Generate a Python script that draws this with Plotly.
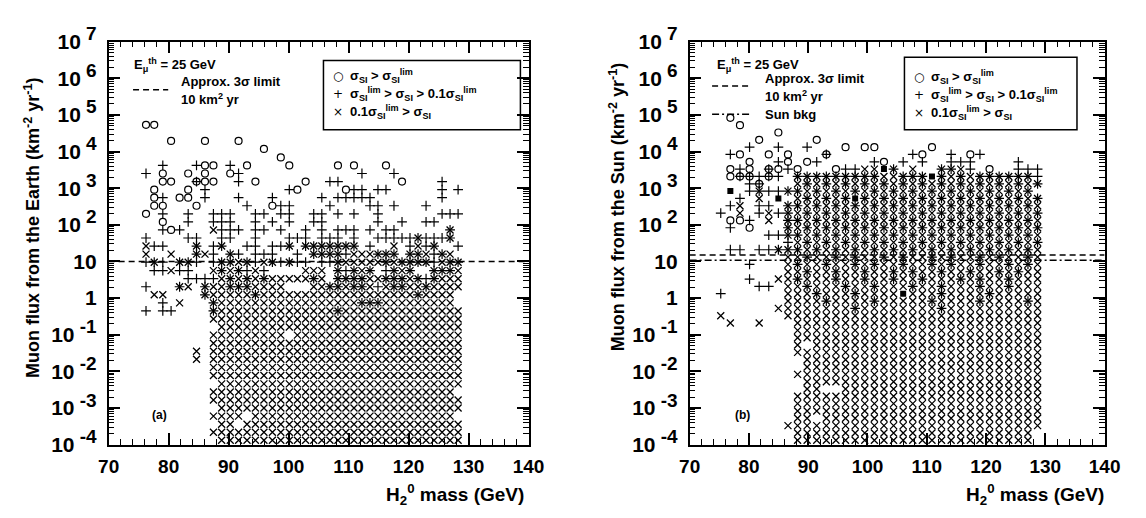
import plotly.graph_objects as go

W, H = 1146, 518
FONT = "Liberation Sans, Arial, Helvetica, sans-serif"

# ---------------------------------------------------------------- data
# Panel (a): muon flux from the Earth.  Scan points:
# column masses (GeV), row fluxes (log10 km^-2 yr^-1), and a symbol map
# (top row first).  'o' sigma_SI > lim, '+' lim > sigma_SI > 0.1 lim,
# 'x' 0.1 lim > sigma_SI, '*' = '+' and 'x' overlap, '@' = 'o' and '+', 's' = pile-up
left_mass = [76.23, 77.60, 79.03, 80.41, 81.83, 83.26, 84.65, 86.06, 87.47, 88.84,
             90.27, 91.66, 93.07, 94.47, 95.89, 97.30, 98.70, 100.12, 101.47, 102.84,
             104.19, 105.54, 106.89, 108.23, 109.56, 110.90, 112.23, 113.57, 114.90, 116.24,
             117.57, 118.91, 120.24, 121.58, 122.92, 124.25, 125.59, 126.92, 128.26]
left_log_flux = [-3.88, -3.66, -3.44, -3.22, -3.00, -2.78, -2.56, -2.34, -2.11, -1.89,
                 -1.67, -1.45, -1.23, -1.01, -0.79, -0.57, -0.35, -0.13, 0.09, 0.31,
                 0.53, 0.75, 0.98, 1.20, 1.42, 1.64, 1.86, 2.08, 2.30, 2.52,
                 2.74, 2.96, 3.18, 3.40, 3.62, 3.84, 4.07, 4.29, 4.51, 4.73]
left_map = [
    "oo",
    "",
    "...o...o...o",
    "..............o",
    "................o",
    "..+...+oo.+.o....o.....o.o...o",
    "+.o..o.o..o+..............+...+",
    "..oo..@oo..+.o.....o..++.......o....+",
    ".o...o.+.........+o.....o++.++......+.+",
    ".o+.oo.+...+...+.....+.+++++........+",
    ".oo...o.....+..o++....+....++.+...+",
    "o.+..+..+++..++.++..++.+.+..+.......+++",
    "..o..+..+++..+.+.+..++......+..+..++",
    "..+o+...x+++.++.+..+.+.+++.+.++......*",
    "+....++..++..+...+++.+++.+..+++++*+++*",
    "x++...*.+*..++.++*.*******.+..x.+x+*..+",
    "x..x..*x+.*+.+++..+.****+xxx***.**x+*x",
    "+*+.**+.+**x*+x*+*++.++*xxxxx*x****+x**",
    ".++x++..x*x*+x+....xxx.*+*x*.+*x*..***x",
    ".....++++x*x*x*xxxxx*x.****xx***x*+*xxx",
    "+...*x.*xx***xxxx...xx**x**x+x**xx*xxxx",
    ".xx....*xxxxx*" + "x" * 19 + "*xxxx.",
    "..+.x...*" + "x" * 17 + "***" + "x" * 9 + ".",
    "+.++....*" + "x" * 14 + "*" + "x" * 15,
    "." * 8 + "x" * 31,
    "." * 9 + "x" * 30,
    "." * 8 + "x" * 9 + "." + "x" * 21,
    "." * 8 + "x" * 31,
    "......x." + "x" * 31,
    "......x." + "x" * 31,
    "." * 8 + "x" * 31,
    "." * 8 + "x" * 31,
    "." * 9 + "x" * 30,
    "." * 8 + "x" * 30 + ".",
    "." * 8 + "x" * 31,
    "." * 9 + "x" * 30,
    "." * 8 + "xxxx." + "x" * 25 + ".",
    "." * 9 + "xx." + "x" * 27,
    "." * 8 + "x" * 31,
    "." * 9 + "x" * 30,
]

# Panel (b): muon flux from the Sun
right_mass = [75.25, 76.87, 78.49, 80.11, 81.73, 83.35, 84.97, 86.59, 88.21, 89.82,
              91.44, 93.06, 94.68, 96.30, 97.92, 99.54, 101.16, 102.78, 104.40, 106.02,
              107.64, 109.26, 110.88, 112.49, 114.11, 115.73, 117.35, 118.97, 120.59, 122.21,
              123.83, 125.45, 127.07, 128.69]
right_log_flux = [-3.88, -3.68, -3.48, -3.28, -3.08, -2.88, -2.68, -2.48, -2.28, -2.08,
                  -1.88, -1.68, -1.48, -1.28, -1.08, -0.88, -0.68, -0.48, -0.28, -0.08,
                  0.12, 0.32, 0.52, 0.72, 0.92, 1.12, 1.32, 1.52, 1.72, 1.92,
                  2.12, 2.32, 2.52, 2.72, 2.92, 3.12, 3.32, 3.52, 3.72, 3.92,
                  4.12, 4.32, 4.52, 4.72, 4.92]
right_map = [
    ".o",
    "..o",
    "......o",
    "....o.....o",
    "...+..+..+...o.oo.....o",
    ".+o..o.o...@........+o..+.o+",
    "...o..+o.o+.....+o.+.+..+++....+",
    ".o+o.@o+o...o++xxs*.x..**x+.o..+++",
    ".o@@+@+." + "********" + "*xx***s*x*x******+",
    "...+@..." + "x*x*x*x*x*x*x*x*x*x*x*x*x*",
    ".s.+*++*" + "*x*x*x*x*x*x*x*x*x*x*x*x*" + ".",
    "..+.x.s." + "x*x*x*s*x*x*x*x*x*x*x*x*x*",
    ".+x.++.*" + "*x*x*x*x*x*x*x*x*x*x*x*x*x",
    "+.x.+x+*" + "x*x*x*x*x*x*x*x*x*x*x*x*x*",
    ".oo+.x.*" + "*x*x*x*x*x*x*x*x*x*x*x*x*x",
    ".+.o...*" + "x*x*x*x*x*x*x*x*x*x*x*x*x*",
    ".....++*" + "*x*x*x*x*x*x*x*x*x*x*x*x*x",
    ".......+" + "x*x*x*x*x*x*x*x*x*x*x*x*x*",
    ".++.++**" + "*x*x*x*x*x*x*x*x*x*x*x*x*x",
    "......." + "xx*xx*x*xx*x*xx*x*xx*x*xx*x",
    "...+..." + "x*xx*xx*x*xx*xx*x*xx*xx*x*x",
    "......." + "xx*xx*xx*xx*x*xx*xx*xx*x*xx",
    "...+..x" + "x*xxx*xx*xx*xx*xxx*x*xx*xxx",
    "....++." + "xx*xxx*xx*xxx*xx*xxx*xx*xxx",
    "+......" + "xxx*xxx*xxxxsxxx*xxxx*xxxxx",
    "......." + "xxxx*xxxx*xxxxx*xxxx*xxxx*x",
    "......x" + "xxxxxxx*xxxxxxxx*xxxxxxxxxx",
    "x......" + "x" * 27,
    ".x..x..." + "x" * 26,
    "." * 8 + "x" * 26,
    "." * 8 + "x" * 26,
    "." * 8 + "x." + "x" * 24,
    "." * 8 + "x" * 26,
    "." * 9 + "x" * 25,
    "." * 9 + "x" * 25,
    "." * 8 + "x" * 26,
    "." * 9 + "x" * 25,
    "." * 8 + ".xx.." + "x" * 21,
    "." * 8 + "x" * 26,
    "." * 8 + "x" * 26,
    "." * 8 + "x" * 26,
    "." * 8 + "xx." + "x" * 23,
    "." * 7 + "x" * 27,
    "." * 8 + "x" * 25 + ".",
    "." * 8 + "x" * 25 + ".",
]

mass_ticks = [70, 80, 90, 100, 110, 120, 130, 140]
flux_decades = [-4, -3, -2, -1, 0, 1, 2, 3, 4, 5, 6, 7]
left_limit_flux = 10.0      # approx. 3 sigma limit, 10 km^2 yr
right_limit_flux = 15.1     # approx. 3 sigma limit, 10 km^2 yr
right_sunbkg_flux = 10.8    # Sun background
mass_range = [70, 140]


# ---------------------------------------------------------------- helpers
def decode(cols, rows_log, cmap):
    assert len(cmap) == len(rows_log), (len(cmap), len(rows_log))
    g = {k: ([], []) for k in ("circle", "plus", "cross", "square")}
    n = len(rows_log)
    for i, line in enumerate(cmap):
        assert len(line) <= len(cols), (i, len(line))
        y = 10 ** rows_log[n - 1 - i]
        for k, ch in enumerate(line):
            if ch == ".":
                continue
            x = cols[k]
            if ch in "o@":
                g["circle"][0].append(x); g["circle"][1].append(y)
            if ch in "+*@":
                g["plus"][0].append(x); g["plus"][1].append(y)
            if ch in "x*":
                g["cross"][0].append(x); g["cross"][1].append(y)
            if ch == "s":
                g["square"][0].append(x); g["square"][1].append(y)
    return g


STYLE = {
    "circle": dict(symbol="circle-open", size=7, color="black", line=dict(width=1.2, color="black")),
    "plus": dict(symbol="cross-thin", size=7, color="black", line=dict(width=1.2, color="black")),
    "cross": dict(symbol="x-thin", size=7, color="black", line=dict(width=1.3, color="black")),
    "square": dict(symbol="square", size=6, color="black", line=dict(width=0, color="black")),
}

fig = go.Figure()

for cols, rows, cmap, xa, ya in [(left_mass, left_log_flux, left_map, "x", "y"),
                                  (right_mass, right_log_flux, right_map, "x2", "y2")]:
    g = decode(cols, rows, cmap)
    for key in ("circle", "plus", "cross", "square"):
        xs, ys = g[key]
        if not xs:
            continue
        fig.add_trace(go.Scatter(x=xs, y=ys, mode="markers", xaxis=xa, yaxis=ya,
                                 marker=STYLE[key], hoverinfo="skip", showlegend=False))

# limit lines
fig.add_trace(go.Scatter(x=mass_range, y=[left_limit_flux] * 2, mode="lines", xaxis="x", yaxis="y",
                         line=dict(color="black", width=1.5, dash="6px,4px"),
                         hoverinfo="skip", showlegend=False))
fig.add_trace(go.Scatter(x=mass_range, y=[right_limit_flux] * 2, mode="lines", xaxis="x2", yaxis="y2",
                         line=dict(color="black", width=1.5, dash="6px,4px"),
                         hoverinfo="skip", showlegend=False))
fig.add_trace(go.Scatter(x=mass_range, y=[right_sunbkg_flux] * 2, mode="lines", xaxis="x2", yaxis="y2",
                         line=dict(color="black", width=1.5, dash="7px,3px,2px,3px"),
                         hoverinfo="skip", showlegend=False))


# ---------------------------------------------------------------- axes
def fx(px):
    return px / W


def fy(py):
    return 1 - py / H


tickfont = dict(family=FONT, size=19, color="black", weight="bold")
ytickfont = dict(family=FONT, size=21, color="black", weight="bold")


def ylabel(e):
    if e == 0:
        return "1"
    if e == 1:
        return "10"
    return "10<sup><span style='font-size:19px'> %d</span></sup>" % e


minor_y = [m * 10.0 ** e for e in range(-4, 7) for m in range(2, 10)]


def xaxis_cfg(domain, anchor):
    return dict(domain=domain, anchor=anchor, range=mass_range, tickmode="array",
                tickvals=mass_ticks, ticktext=[str(v) for v in mass_ticks],
                ticks="inside", ticklen=12, tickwidth=1.5, tickcolor="black",
                showline=True, linecolor="black", linewidth=1.5, mirror="allticks",
                showgrid=False, zeroline=False, tickfont=tickfont, ticklabelstandoff=4,
                minor=dict(dtick=2, tick0=70, ticks="inside", ticklen=6, tickwidth=1.2,
                           tickcolor="black", showgrid=False))


def yaxis_cfg(domain, anchor):
    return dict(domain=domain, anchor=anchor, type="log", range=[-4, 7], tickmode="array",
                tickvals=[10.0 ** e for e in flux_decades],
                ticktext=[ylabel(e) for e in flux_decades],
                ticks="inside", ticklen=12, tickwidth=1.5, tickcolor="black",
                showline=True, linecolor="black", linewidth=1.5, mirror="allticks",
                showgrid=False, zeroline=False, tickfont=ytickfont, ticklabelstandoff=6,
                minor=dict(tickmode="array", tickvals=minor_y, ticks="inside", ticklen=6,
                           tickwidth=1.0, tickcolor="black", showgrid=False))


ydom = [fy(452), fy(25)]
fig.update_layout(
    width=W, height=H, autosize=False,
    margin=dict(l=0, r=0, t=0, b=0),
    paper_bgcolor="white", plot_bgcolor="white",
    showlegend=False,
    xaxis=xaxis_cfg([fx(100), fx(530)], "y"),
    yaxis=yaxis_cfg(ydom, "x"),
    xaxis2=xaxis_cfg([fx(695), fx(1120)], "y2"),
    yaxis2=yaxis_cfg(ydom, "x2"),
)

# ---------------------------------------------------------------- text
anns = []


def ann(text, px, py, size=13, xanchor="left", yanchor="middle", angle=0, family=FONT, bold=True):
    f = dict(family=family, size=size, color="black")
    if bold:
        f["weight"] = "bold"
    anns.append(dict(text=text, x=fx(px), y=fy(py), xref="paper", yref="paper", showarrow=False,
                     xanchor=xanchor, yanchor=yanchor, textangle=angle, font=f))


SIG = "σ<sub>SI</sub>"
SIGL = "σ<sub>SI</sub><sup>lim</sup>"
entries = [("○", SIG + " > " + SIGL),
           ("+", SIGL + " > " + SIG + " > 0.1" + SIGL),
           ("×", "0.1" + SIGL + " > " + SIG)]

# panel (a)
ann("E<sub>μ</sub><sup>th</sup> = 25 GeV", 124, 50)
ann("Approx. 3σ limit", 172, 67)
ann("10 km<sup>2</sup> yr", 172, 86)
ann("(a)", 142, 421, size=12)
for (sym, txt), py in zip(entries, [61, 81, 100]):
    ann(sym, 335, py, size=12, xanchor="center", family="DejaVu Sans", bold=False)
    ann(txt, 345, py, size=13)
ann("Muon flux from the Earth (km<sup>-2</sup> yr<sup>-1</sup>)", 22, 222, size=18, xanchor="center", angle=-90)
ann("H<sub>2</sub><sup>0</sup> mass (GeV)", 527, 505, size=19, xanchor="right")

# panel (b)
ann("E<sub>μ</sub><sup>th</sup> = 25 GeV", 721, 50)
ann("Approx. 3σ limit", 770, 64)
ann("10 km<sup>2</sup> yr", 770, 83)
ann("Sun bkg", 770, 102)
ann("(b)", 739, 421, size=12)
for (sym, txt), py in zip(entries, [62, 82, 101]):
    ann(sym, 930, py, size=12, xanchor="center", family="DejaVu Sans", bold=False)
    ann(txt, 940, py, size=13)
ann("Muon flux from the Sun (km<sup>-2</sup> yr<sup>-1</sup>)", 621, 200, size=18, xanchor="center", angle=-90)
ann("H<sub>2</sub><sup>0</sup> mass (GeV)", 1121, 505, size=19, xanchor="right")

fig.update_layout(annotations=anns)

# legend boxes and line samples
shapes = [
    dict(type="rect", xref="paper", yref="paper", x0=fx(320), x1=fx(521.7), y0=fy(118.3), y1=fy(45),
         line=dict(color="black", width=1.5)),
    dict(type="rect", xref="paper", yref="paper", x0=fx(915), x1=fx(1091.7), y0=fy(118.3), y1=fy(41.7),
         line=dict(color="black", width=1.5)),
    dict(type="line", xref="paper", yref="paper", x0=fx(125), x1=fx(161), y0=fy(76), y1=fy(76),
         line=dict(color="black", width=1.5, dash="6px,4px")),
    dict(type="line", xref="paper", yref="paper", x0=fx(718), x1=fx(756), y0=fy(72), y1=fy(72),
         line=dict(color="black", width=1.5, dash="6px,4px")),
    dict(type="line", xref="paper", yref="paper", x0=fx(718), x1=fx(756), y0=fy(102), y1=fy(102),
         line=dict(color="black", width=1.5, dash="7px,3px,2px,3px")),
]
fig.update_layout(shapes=shapes)

fig.write_html("out.html", config={"displayModeBar": False},
               post_script="document.body.style.margin='0';document.body.style.overflow='hidden';")
